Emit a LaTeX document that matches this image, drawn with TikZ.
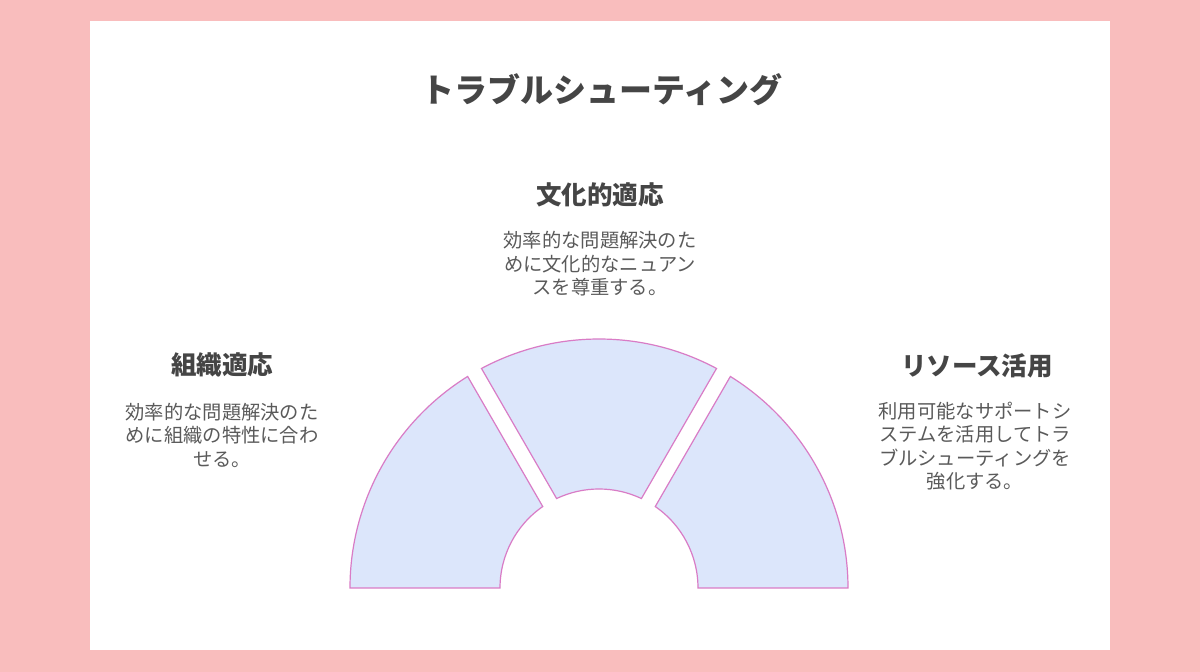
\documentclass[tikz,border=0pt]{standalone}
\usepackage{fontspec}
\setmainfont{Noto Sans CJK JP}
\usetikzlibrary{calc}
\definecolor{bgpink}{HTML}{F9BDBD}
\definecolor{segfill}{HTML}{DCE6FB}
\definecolor{segline}{HTML}{D97CC6}
\definecolor{headc}{HTML}{454545}
\definecolor{bodyc}{HTML}{5A5A5A}
\tikzset{
  seg/.style={fill=segfill, draw=segline, line width=1.2bp, line join=miter},
  titletext/.style={font=\fontsize{33bp}{38bp}\selectfont\bfseries, text=headc, inner sep=0pt},
  headtext/.style={font=\fontsize{25.5bp}{30bp}\selectfont\bfseries, text=headc, inner sep=0pt},
  bodytext/.style={font=\fontsize{19.3bp}{23.5bp}\selectfont, text=bodyc, align=center, inner sep=0pt},
}
\begin{document}
\begin{tikzpicture}[x=1bp,y=1bp]
\fill[bgpink] (0,0) rectangle (1200,672);
\fill[white] (90,22) rectangle (1110,651);
\useasboundingbox (0,0) rectangle (1200,672);
\coordinate (C) at (599,84);
% left segment
\draw[seg] ($(C)+(180:249)$) arc[start angle=180, end angle=121.84, radius=249]
  -- ($(C)+(124.64:99)$) arc[start angle=124.64, end angle=180, radius=99] -- cycle;
% middle segment
\draw[seg] ($(C)+(118.16:249)$) arc[start angle=118.16, end angle=61.84, radius=249]
  -- ($(C)+(64.64:99)$) arc[start angle=64.64, end angle=115.36, radius=99] -- cycle;
% right segment
\draw[seg] ($(C)+(0:249)$) arc[start angle=0, end angle=58.16, radius=249]
  -- ($(C)+(55.36:99)$) arc[start angle=55.36, end angle=0, radius=99] -- cycle;

\node[titletext] (title) at (602,582) {トラブルシューティング};

\node[headtext] (h2) at (600,477) {文化的適応};
\node[bodytext] (b2) at (600,408) {効率的な問題解決のた\\めに文化的なニュアン\\スを尊重する。};

\node[headtext] (h1) at (222,307) {組織適応};
\node[bodytext] (b1) at (222,237) {効率的な問題解決のた\\めに組織の特性に合わ\\せる。};

\node[headtext] (h3) at (977,306) {リソース活用};
\node[bodytext] (b3) at (975,226) {利用可能なサポートシ\\ステムを活用してトラ\\ブルシューティングを\\強化する。};
\end{tikzpicture}
\end{document}
